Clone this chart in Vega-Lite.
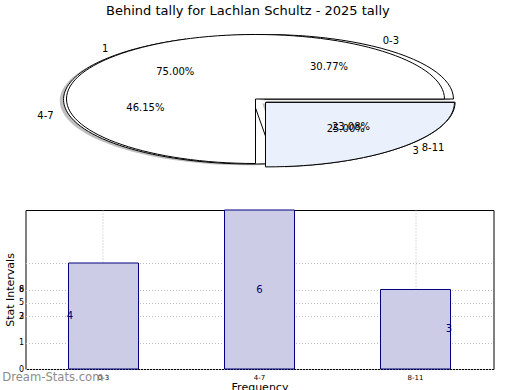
{
  "$schema": "https://vega.github.io/schema/vega-lite/v6.json",
  "padding": {"left": 1.5, "top": 5, "right": 5, "bottom": 0},
  "config": {
    "font": "DejaVu Sans",
    "view": {"stroke": "black", "strokeWidth": 1},
    "axis": {"labelFont": "DejaVu Sans", "titleFont": "DejaVu Sans", "labelColor": "black", "titleColor": "black", "titleFontWeight": "normal", "domain": false, "ticks": false},
    "title": {"font": "DejaVu Sans", "fontSize": 13, "fontWeight": "normal", "color": "black"}
  },
  "title": {"text": "Behind tally for Lachlan Schultz - 2025 tally", "anchor": "middle", "offset": 13},
  "datasets": {
    "bars": [
      {"label": "0-3", "value": 4},
      {"label": "4-7", "value": 6},
      {"label": "8-11", "value": 3}
    ],
    "pie1": [
      {"label": "1", "value": 3},
      {"label": "3", "value": 1}
    ]
  },
  "spacing": 38,
  "vconcat": [
    {
      "width": 468,
      "height": 140,
      "view": {"stroke": null},
      "layer": [
        {
          "data": {"name": "bars"},
          "transform": [{"filter": "datum.label == '0-3'"}],
          "mark": {"type": "point", "filled": true, "fill": "#7f7f7f", "opacity": 0.5, "strokeWidth": 0, "size": 142884, "xOffset": 5.2, "yOffset": 1.3, "shape": "M 0 0 L 1 0 A 1 0.3413 0 0 0 -0.3546 -0.3191 Z"},
          "encoding": {
            "x": {"datum": 0, "type": "quantitative", "scale": {"domain": [-1.2169, 1.2593], "nice": false, "zero": false}, "axis": null},
            "y": {"datum": 0, "type": "quantitative", "scale": {"domain": [-1.1163, 1.0543], "nice": false, "zero": false}, "axis": null}
          }
        },
        {
          "data": {"name": "bars"},
          "transform": [{"filter": "datum.label == '4-7'"}],
          "mark": {"type": "point", "filled": true, "fill": "#7f7f7f", "opacity": 0.5, "strokeWidth": 0, "size": 142884, "xOffset": -6.8, "yOffset": 1.8, "shape": "M 0 0 L -0.3546 -0.3191 A 1 0.3413 0 0 0 0.1205 0.3388 Z"},
          "encoding": {
            "x": {"datum": 0, "type": "quantitative", "scale": {"domain": [-1.2169, 1.2593], "nice": false, "zero": false}, "axis": null},
            "y": {"datum": 0, "type": "quantitative", "scale": {"domain": [-1.1163, 1.0543], "nice": false, "zero": false}, "axis": null}
          }
        },
        {
          "data": {"name": "bars"},
          "transform": [{"filter": "datum.label == '8-11'"}],
          "mark": {"type": "point", "filled": true, "fill": "#7f7f7f", "opacity": 0.5, "strokeWidth": 0, "size": 142884, "xOffset": 6.8, "yOffset": 4.5, "shape": "M 0 0 L 0.1205 0.3388 A 1 0.3413 0 0 0 1 0 Z"},
          "encoding": {
            "x": {"datum": 0, "type": "quantitative", "scale": {"domain": [-1.2169, 1.2593], "nice": false, "zero": false}, "axis": null},
            "y": {"datum": 0, "type": "quantitative", "scale": {"domain": [-1.1163, 1.0543], "nice": false, "zero": false}, "axis": null}
          }
        },
        {
          "data": {"name": "bars"},
          "transform": [{"filter": "datum.label == '0-3'"}],
          "mark": {"type": "point", "filled": true, "fill": "white", "opacity": 1, "stroke": "black", "strokeWidth": 1, "size": 142884, "xOffset": 9, "yOffset": 0, "shape": "M 0 0 L 1 0 A 1 0.3413 0 0 0 -0.3546 -0.3191 Z"},
          "encoding": {
            "x": {"datum": 0, "type": "quantitative", "scale": {"domain": [-1.2169, 1.2593], "nice": false, "zero": false}, "axis": null},
            "y": {"datum": 0, "type": "quantitative", "scale": {"domain": [-1.1163, 1.0543], "nice": false, "zero": false}, "axis": null}
          }
        },
        {
          "data": {"name": "bars"},
          "transform": [{"filter": "datum.label == '4-7'"}],
          "mark": {"type": "point", "filled": true, "fill": "white", "opacity": 1, "stroke": "black", "strokeWidth": 1, "size": 142884, "xOffset": -3, "yOffset": 0.5, "shape": "M 0 0 L -0.3546 -0.3191 A 1 0.3413 0 0 0 0.1205 0.3388 Z"},
          "encoding": {
            "x": {"datum": 0, "type": "quantitative", "scale": {"domain": [-1.2169, 1.2593], "nice": false, "zero": false}, "axis": null},
            "y": {"datum": 0, "type": "quantitative", "scale": {"domain": [-1.1163, 1.0543], "nice": false, "zero": false}, "axis": null}
          }
        },
        {
          "data": {"name": "bars"},
          "transform": [{"filter": "datum.label == '8-11'"}],
          "mark": {"type": "point", "filled": true, "fill": "#eaf0fc", "opacity": 1, "stroke": "black", "strokeWidth": 1, "size": 142884, "xOffset": 10.6, "yOffset": 3.2, "shape": "M 0 0 L 0.1205 0.3388 A 1 0.3413 0 0 0 1 0 Z"},
          "encoding": {
            "x": {"datum": 0, "type": "quantitative", "scale": {"domain": [-1.2169, 1.2593], "nice": false, "zero": false}, "axis": null},
            "y": {"datum": 0, "type": "quantitative", "scale": {"domain": [-1.1163, 1.0543], "nice": false, "zero": false}, "axis": null}
          }
        },
        {
          "data": {"name": "pie1"},
          "transform": [{"filter": "datum.label == '1'"}],
          "mark": {"type": "point", "filled": true, "fill": "white", "opacity": 1, "stroke": "black", "strokeWidth": 1, "size": 142884, "shape": "M 0 0 L 1 0 A 1 0.3413 0 1 0 0 0.3413 Z"},
          "encoding": {
            "x": {"datum": 0, "type": "quantitative", "scale": {"domain": [-1.2169, 1.2593], "nice": false, "zero": false}, "axis": null},
            "y": {"datum": 0, "type": "quantitative", "scale": {"domain": [-1.1163, 1.0543], "nice": false, "zero": false}, "axis": null}
          }
        },
        {
          "data": {"name": "pie1"},
          "transform": [{"filter": "datum.label == '3'"}],
          "mark": {"type": "point", "filled": true, "fill": "#eaf0fc", "opacity": 1, "stroke": "black", "strokeWidth": 1, "size": 142884, "xOffset": 10, "yOffset": 3.4, "shape": "M 0 0 L 0 0.3413 A 1 0.3413 0 0 0 1 0 Z"},
          "encoding": {
            "x": {"datum": 0, "type": "quantitative", "scale": {"domain": [-1.2169, 1.2593], "nice": false, "zero": false}, "axis": null},
            "y": {"datum": 0, "type": "quantitative", "scale": {"domain": [-1.1163, 1.0543], "nice": false, "zero": false}, "axis": null}
          }
        },
        {
          "data": {"name": "bars"},
          "transform": [
            {"joinaggregate": [{"op": "sum", "field": "value", "as": "total"}]},
            {"window": [{"op": "sum", "field": "value", "as": "cum"}], "frame": [null, 0]},
            {"calculate": "2*PI*(datum.cum - datum.value/2)/datum.total", "as": "mid"},
            {"calculate": "datum.label == '0-3' ? 0.048 : datum.label == '8-11' ? 0.056 : 0", "as": "ox"},
            {"calculate": "datum.label == '8-11' ? -0.035 : 0", "as": "oy"},
            {"calculate": "1.1*cos(datum.mid) + datum.ox", "as": "lx"},
            {"calculate": "1.1*sin(datum.mid) + datum.oy", "as": "ly"},
            {"calculate": "0.6*cos(datum.mid) + datum.ox", "as": "px"},
            {"calculate": "0.6*sin(datum.mid) + datum.oy", "as": "py"},
            {"calculate": "datum.value/datum.total", "as": "frac"}
          ],
          "layer": [
            {
              "transform": [{"filter": "datum.lx >= 0"}],
              "mark": {"type": "text", "align": "left", "baseline": "middle", "fontSize": 10, "color": "black"},
              "encoding": {
                "x": {"field": "lx", "type": "quantitative", "scale": {"domain": [-1.2169, 1.2593], "nice": false, "zero": false}, "axis": null},
                "y": {"field": "ly", "type": "quantitative", "scale": {"domain": [-1.1163, 1.0543], "nice": false, "zero": false}, "axis": null},
                "text": {"field": "label", "type": "nominal"}
              }
            },
            {
              "transform": [{"filter": "datum.lx < 0"}],
              "mark": {"type": "text", "align": "right", "baseline": "middle", "fontSize": 10, "color": "black"},
              "encoding": {
                "x": {"field": "lx", "type": "quantitative", "scale": {"domain": [-1.2169, 1.2593], "nice": false, "zero": false}, "axis": null},
                "y": {"field": "ly", "type": "quantitative", "scale": {"domain": [-1.1163, 1.0543], "nice": false, "zero": false}, "axis": null},
                "text": {"field": "label", "type": "nominal"}
              }
            },
            {
              "mark": {"type": "text", "align": "center", "baseline": "middle", "fontSize": 10, "color": "black"},
              "encoding": {
                "x": {"field": "px", "type": "quantitative", "scale": {"domain": [-1.2169, 1.2593], "nice": false, "zero": false}, "axis": null},
                "y": {"field": "py", "type": "quantitative", "scale": {"domain": [-1.1163, 1.0543], "nice": false, "zero": false}, "axis": null},
                "text": {"field": "frac", "type": "quantitative", "format": ".2%"}
              }
            }
          ]
        },
        {
          "data": {"name": "pie1"},
          "transform": [
            {"joinaggregate": [{"op": "sum", "field": "value", "as": "total"}]},
            {"window": [{"op": "sum", "field": "value", "as": "cum"}], "frame": [null, 0]},
            {"calculate": "2*PI*(datum.cum - datum.value/2)/datum.total", "as": "mid"},
            {"calculate": "datum.label == '3' ? 0.053 : 0", "as": "ox"},
            {"calculate": "datum.label == '3' ? -0.035 : 0", "as": "oy"},
            {"calculate": "1.1*cos(datum.mid) + datum.ox", "as": "lx"},
            {"calculate": "1.1*sin(datum.mid) + datum.oy", "as": "ly"},
            {"calculate": "0.6*cos(datum.mid) + datum.ox", "as": "px"},
            {"calculate": "0.6*sin(datum.mid) + datum.oy", "as": "py"},
            {"calculate": "datum.value/datum.total", "as": "frac"}
          ],
          "layer": [
            {
              "transform": [{"filter": "datum.lx >= 0"}],
              "mark": {"type": "text", "align": "left", "baseline": "middle", "fontSize": 10, "color": "black"},
              "encoding": {
                "x": {"field": "lx", "type": "quantitative", "scale": {"domain": [-1.2169, 1.2593], "nice": false, "zero": false}, "axis": null},
                "y": {"field": "ly", "type": "quantitative", "scale": {"domain": [-1.1163, 1.0543], "nice": false, "zero": false}, "axis": null},
                "text": {"field": "label", "type": "nominal"}
              }
            },
            {
              "transform": [{"filter": "datum.lx < 0"}],
              "mark": {"type": "text", "align": "right", "baseline": "middle", "fontSize": 10, "color": "black"},
              "encoding": {
                "x": {"field": "lx", "type": "quantitative", "scale": {"domain": [-1.2169, 1.2593], "nice": false, "zero": false}, "axis": null},
                "y": {"field": "ly", "type": "quantitative", "scale": {"domain": [-1.1163, 1.0543], "nice": false, "zero": false}, "axis": null},
                "text": {"field": "label", "type": "nominal"}
              }
            },
            {
              "mark": {"type": "text", "align": "center", "baseline": "middle", "fontSize": 10, "color": "black"},
              "encoding": {
                "x": {"field": "px", "type": "quantitative", "scale": {"domain": [-1.2169, 1.2593], "nice": false, "zero": false}, "axis": null},
                "y": {"field": "py", "type": "quantitative", "scale": {"domain": [-1.1163, 1.0543], "nice": false, "zero": false}, "axis": null},
                "text": {"field": "frac", "type": "quantitative", "format": ".2%"}
              }
            }
          ]
        }
      ]
    },
    {
      "width": 468,
      "height": 159,
      "layer": [
        {
          "data": {"name": "bars"},
          "mark": {"type": "bar", "fill": "#ccccE6", "stroke": "#000080", "strokeWidth": 1},
          "encoding": {
            "x": {
              "field": "label", "type": "nominal", "sort": null,
              "scale": {"type": "band", "domain": ["0-3", "4-7", "8-11"], "paddingInner": 0.5513, "paddingOuter": 0.2756},
              "axis": {"title": "Frequency", "labelAngle": 0, "grid": true, "bandPosition": 0.5, "gridDash": [1, 2], "gridColor": "#bdbdbd", "labelFontSize": 7, "labelPadding": 4, "titleFontSize": 11, "titlePadding": 1}
            },
            "y": {
              "field": "value", "type": "quantitative",
              "scale": {"domain": [0, 6], "nice": false, "zero": true},
              "axis": {"title": "Stat Intervals", "values": [0, 1, 2, 2.5, 3, 4], "labelExpr": "datum.value == 0 ? '0' : datum.value == 1 ? '1' : datum.value == 2 ? '2' : datum.value == 2.5 ? '5' : datum.value == 3 ? '6' : ''", "grid": true, "gridDash": [1, 2], "gridColor": "#bdbdbd", "labelFontSize": 8, "labelPadding": 2, "titleFontSize": 11, "titlePadding": 3}
            }
          }
        },
        {
          "data": {"name": "bars"},
          "mark": {"type": "bar", "opacity": 0},
          "encoding": {
            "x": {
              "field": "label", "type": "nominal", "sort": null,
              "scale": {"type": "band", "domain": ["0-3", "4-7", "8-11"], "paddingInner": 0.5513, "paddingOuter": 0.2756},
              "axis": null
            },
            "y": {
              "field": "value", "type": "quantitative",
              "scale": {"domain": [0, 6], "nice": false, "zero": true},
              "axis": {"orient": "left", "title": null, "values": [2, 3], "labelExpr": "datum.value == 2 ? '3' : '8'", "grid": false, "labelFontSize": 8, "labelPadding": 2}
            }
          }
        },
        {
          "data": {"name": "bars"},
          "mark": {"type": "text", "color": "#000080", "fontSize": 10, "baseline": "middle", "align": "center"},
          "encoding": {
            "x": {"field": "label", "type": "nominal", "sort": null, "scale": {"type": "point", "domain": ["0-3", "4-7", "8-11"], "padding": 0.235}, "axis": null},
            "y": {"field": "value", "type": "quantitative", "scale": {"domain": [0, 12], "nice": false, "zero": true}, "axis": null},
            "text": {"field": "value", "type": "quantitative"}
          }
        },
        {
          "data": {"values": [{"site": "Dream-Stats.com"}]},
          "mark": {"type": "text", "color": "#8c8c8c", "fontSize": 11.6, "align": "right", "baseline": "middle", "dy": 9},
          "encoding": {
            "x": {"datum": "0-3", "type": "nominal", "scale": {"type": "band", "domain": ["0-3", "4-7", "8-11"], "paddingInner": 0.5513, "paddingOuter": 0.2756}, "axis": null},
            "y": {"datum": 0, "type": "quantitative", "scale": {"domain": [0, 6], "nice": false, "zero": true}, "axis": null},
            "text": {"field": "site", "type": "nominal"}
          }
        }
      ],
      "resolve": {"scale": {"x": "independent", "y": "independent"}, "axis": {"x": "independent", "y": "independent"}}
    }
  ]
}
